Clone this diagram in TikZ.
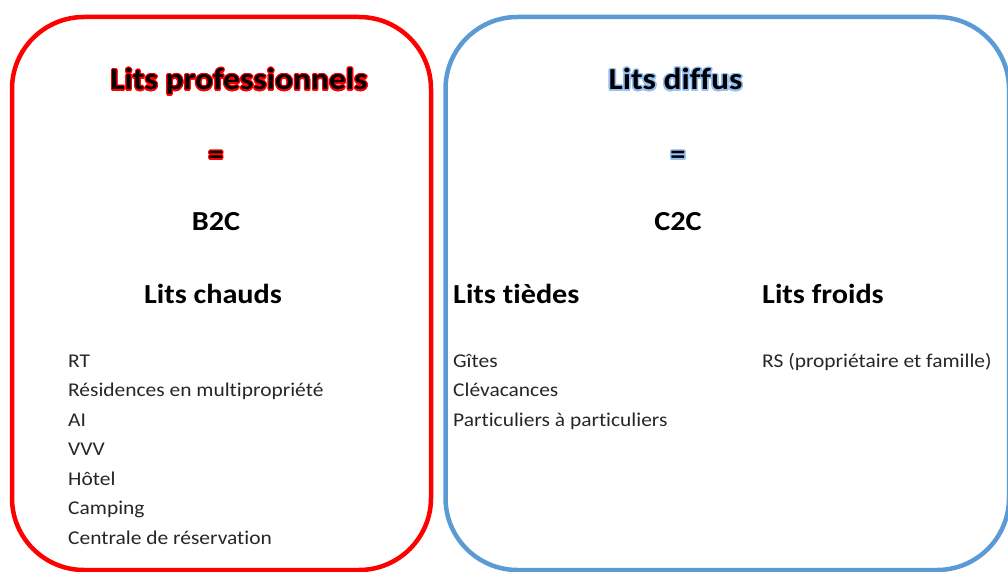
\documentclass[tikz,border=0pt]{standalone}
\usepackage{fontspec}
\setmainfont[FakeStretch=1.1, Ligatures=NoCommon, Contextuals=NoAlternate]{Carlito}
\usepackage[copies]{contour}
\usetikzlibrary{positioning}

\definecolor{proRed}{RGB}{255,0,0}
\definecolor{diffusBlue}{RGB}{91,155,213}
\definecolor{glowBlue}{RGB}{150,192,242}
\definecolor{itemGray}{RGB}{38,38,38}

\newcommand{\proglow}[1]{\contourlength{1.1pt}\contour{proRed}{#1}}
\newcommand{\diffglow}[1]{\contourlength{1.6pt}\contour{glowBlue}{#1}}

\begin{document}
\begin{tikzpicture}[
        x=1pt, y=-1pt,
        panel/.style={line width=4.5pt, rounded corners=72pt},
        title/.style={anchor=base, inner sep=0pt, font=\fontsize{30.5}{36}\selectfont\bfseries},
        heading/.style={anchor=base, inner sep=0pt, font=\fontsize{27.5}{33}\selectfont\bfseries},
        items/.style={anchor=base west, inner sep=0pt, align=left, text=itemGray, font=\fontsize{19.5}{29.5}\selectfont}
    ]
        \useasboundingbox (0,0) rectangle (1008,572);

        % Cadres
        \draw[panel, proRed] (12,17) rectangle (431,570);
        \draw[panel, diffusBlue] (445.5,17) rectangle (1009,570);

        % Lits professionnels
        \node[title] (protitle) at (239,90) {\proglow{Lits professionnels}};
        \node[heading, below=74pt of protitle.base, anchor=base, xshift=-23pt] (proeq) {\proglow{=}};
        \node[heading, below=66pt of proeq.base, anchor=base] (b2c) {B2C};
        \node[heading, below=73pt of b2c.base, anchor=base, xshift=-3pt] (chauds) {Lits chauds};
        % base = derniere ligne
        \node[items] (chaudslist) at (68,544) {RT\\Résidences en multipropriété\\AI\\VVV\\Hôtel\\Camping\\Centrale de réservation};

        % Lits diffus
        \node[title] (diftitle) at (675.5,90) {\diffglow{Lits diffus}};
        \node[heading, below=74pt of diftitle.base, anchor=base, xshift=2.5pt] (difeq) {\diffglow{=}};
        \node[heading, below=66pt of difeq.base, anchor=base] (c2c) {C2C};
        \node[heading, anchor=base west] (tiedes) at (453,303) {Lits tièdes};
        \node[heading, anchor=base west] (froids) at (762,303) {Lits froids};
        \node[items] (tiedeslist) at (453,426) {Gîtes\\Clévacances\\Particuliers à particuliers};
        \node[items] (froidslist) at (762,367) {RS (propriétaire et famille)};

    \end{tikzpicture}
\end{document}
